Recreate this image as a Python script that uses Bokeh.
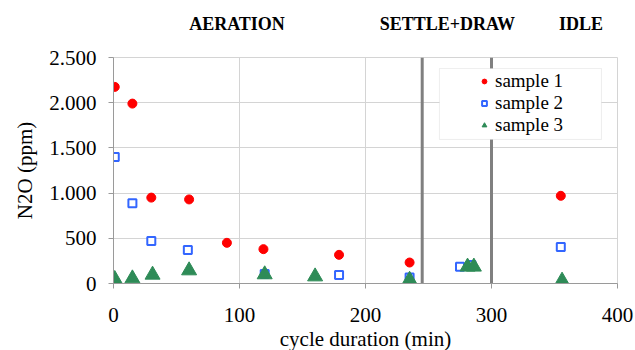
from bokeh.plotting import figure
from bokeh.layouts import column
from bokeh.models import Legend, LegendItem, BoxAnnotation, FixedTicker, Range1d
from bokeh.core.properties import value
from bokeh.embed import file_html
from bokeh.resources import INLINE

# ---- data ----
s1_x = [1, 15, 30, 60, 90, 119, 179, 235, 355]
s1_y = [2175, 1990, 950, 930, 450, 380, 317, 232, 970]
s2_x = [1, 15, 30, 59, 120, 179, 235, 275, 284, 355]
s2_y = [1400, 887, 470, 370, 105, 93, 66, 185, 205, 403]
s3_x = [1, 15, 31, 60, 120, 160, 235, 281, 286, 356]
s3_y = [48, 55, 96, 144, 100, 77, 40, 185, 185, 30]
series_names = ["sample 1", "sample 2", "sample 3"]

phase_bounds = [245, 300]
phase_names = ["AERATION", "SETTLE+DRAW", "IDLE"]
phase_label_x = [98, 265, 371]

x_ticks = [0, 100, 200, 300, 400]
y_ticks = [0, 500, 1000, 1500, 2000, 2500]
y_tick_labels = ["0", "500", "1.000", "1.500", "2.000", "2.500"]

SERIF = "Liberation Serif"
GRID = "#d4d4d4"
AXIS = "#9a9a9a"

W = 635
BL, BR = 113, 18
BT = 12                   # main plot top border (room for the top tick label)
TOPH, BB = 45, 60
FW, FH = W - BL - BR, 226
px_y = 2500 / FH          # ppm per pixel

# ---- top strip with phase names (same x scale) ----
top = figure(width=W, height=TOPH,
             min_border_left=BL, min_border_right=BR,
             min_border_top=0, min_border_bottom=0,
             x_range=Range1d(0, 400),
             y_range=Range1d(2500 + BT * px_y, 2500 + (BT + TOPH) * px_y),
             x_axis_type=None, y_axis_type=None,
             output_backend="svg", toolbar_location=None)
top.outline_line_color = None
top.grid.visible = False
top.text(x=phase_label_x, y=[2870] * 3, text=phase_names,
         text_font=value(SERIF), text_font_size="18px", text_font_style="bold",
         text_align="center", text_baseline="middle", text_color="black")

# ---- main chart ----
p = figure(frame_width=FW, frame_height=FH,
           min_border_left=BL, min_border_right=BR,
           min_border_top=BT, min_border_bottom=BB,
           x_range=(0, 400), y_range=(0, 2500),
           output_backend="svg", toolbar_location=None,
           background_fill_color="white", border_fill_color="white")
p.outline_line_color = GRID

p.xgrid.grid_line_color = GRID
p.ygrid.grid_line_color = GRID
p.xaxis.ticker = FixedTicker(ticks=x_ticks)
p.yaxis.ticker = FixedTicker(ticks=y_ticks)
p.yaxis.major_label_overrides = {t: l for t, l in zip(y_ticks, y_tick_labels)}

for ax in (p.xaxis, p.yaxis):
    ax.axis_line_color = AXIS
    ax.major_tick_line_color = AXIS
    ax.major_tick_out = 5
    ax.major_tick_in = 0
    ax.minor_tick_line_color = None
    ax.major_label_text_font = SERIF
    ax.major_label_text_font_size = "21px"
    ax.major_label_text_color = "black"
    ax.axis_label_text_font = SERIF
    ax.axis_label_text_font_size = "21px"
    ax.axis_label_text_font_style = "normal"
    ax.axis_label_text_color = "black"

p.xaxis.axis_label = "cycle duration (min)"
p.yaxis.axis_label = "N2O (ppm)"
p.xaxis.major_label_standoff = 19
p.yaxis.major_label_standoff = 12
p.yaxis.axis_label_standoff = 9
p.xaxis.axis_label_standoff = 2

# phase boundary lines
p.segment(x0=phase_bounds, x1=phase_bounds, y0=[0, 0], y1=[2500, 2500],
          line_color="#808080", line_width=3)

# legend box (white, bordered)
box = BoxAnnotation(left=258.7, right=387.3, bottom=1593, top=2378,
                    fill_color="white", fill_alpha=1.0,
                    line_color="#c8c8c8", line_width=1)
p.add_layout(box)

r1 = p.scatter(s1_x, s1_y, marker="circle", size=9,
               fill_color="#ff0000", line_color="#ff0000")
r2 = p.scatter(s2_x, s2_y, marker="square", size=8,
               fill_color="white", line_color="#3366ff", line_width=2)
r3 = p.scatter(s3_x, s3_y, marker="triangle", size=15,
               fill_color="#2e8b57", line_color="#2e8b57")

legend = Legend(items=[LegendItem(label=series_names[0], renderers=[r1]),
                       LegendItem(label=series_names[1], renderers=[r2]),
                       LegendItem(label=series_names[2], renderers=[r3])],
                location=(365, 147),
                background_fill_alpha=0.0, border_line_color=None,
                label_text_font=SERIF, label_text_font_size="19px",
                label_text_color="black",
                glyph_width=12, glyph_height=14, label_height=22,
                label_standoff=5, spacing=0, padding=2, margin=0)
p.add_layout(legend)

layout = column(top, p, spacing=0)
open("out.html", "w").write(file_html(layout, INLINE))
